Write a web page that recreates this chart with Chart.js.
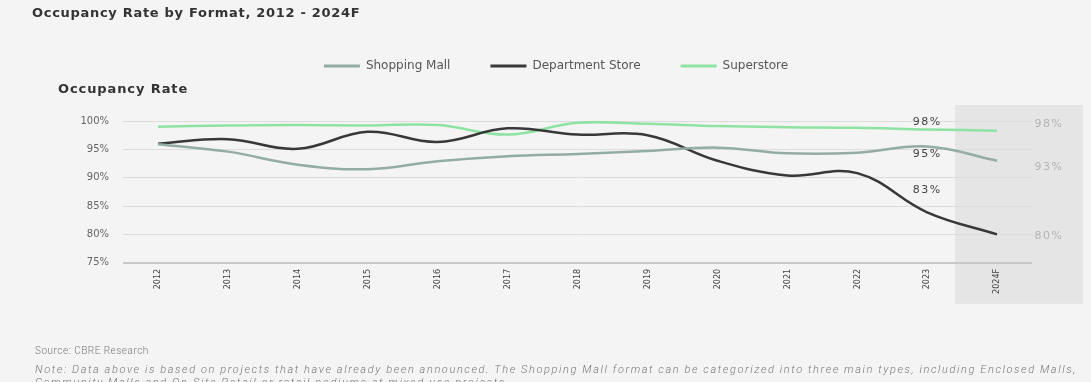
<!DOCTYPE html>
<html>
<head>
<meta charset="utf-8">
<script src="https://cdn.jsdelivr.net/npm/chart.js@4.4.1/dist/chart.umd.min.js"></script>
<style>
  html, body { margin: 0; padding: 0; background: #f4f4f4; }
  body { width: 1091px; height: 382px; position: relative; overflow: hidden; font-family: "DejaVu Sans", sans-serif; }
  canvas { position: absolute; left: 0; top: 0; }
  .title { position: absolute; left: 32px; top: 5px; font-weight: bold; font-size: 13px; letter-spacing: 0.7px; color: #333; }
  .sub { position: absolute; left: 58px; top: 81px; font-weight: bold; font-size: 13px; letter-spacing: 0.9px; color: #333; }
  .source { position: absolute; left: 35px; top: 345px; font-family: Roboto, sans-serif; font-weight: 300; font-size: 10px; letter-spacing: 0.5px; color: #777; }
  .note { position: absolute; left: 35px; top: 363px; width: 1056px; font-family: Roboto, sans-serif; font-weight: 300; font-style: italic; font-size: 11px; letter-spacing: 1.6px; line-height: 13px; color: #777; }
</style>
</head>
<body>
<canvas id="chart" width="1091" height="382"></canvas>
<div class="title">Occupancy Rate by Format, 2012 - 2024F</div>
<div class="sub">Occupancy Rate</div>
<div class="source">Source: CBRE Research</div>
<div class="note">Note: Data above is based on projects that have already been announced. The Shopping Mall format can be categorized into three main types, including Enclosed Malls, Community Malls and On-Site Retail or retail podiums at mixed-use projects.</div>
<script>
// dados
const years = ['2012', '2013', '2014', '2015', '2016', '2017', '2018', '2019', '2020', '2021', '2022', '2023', '2024F'];
const seriesNames = ['Shopping Mall', 'Department Store', 'Superstore'];
const shoppingMall    = [95.9, 94.6, 92.3, 91.5, 92.9, 93.8, 94.2, 94.7, 95.3, 94.3, 94.4, 95.5, 93.0];
const departmentStore = [96.0, 96.8, 95.1, 98.1, 96.3, 98.7, 97.6, 97.5, 93.0, 90.4, 90.8, 83.9, 80.0];
const superstore      = [99.0, 99.2, 99.3, 99.2, 99.3, 97.6, 99.7, 99.5, 99.1, 98.9, 98.8, 98.5, 98.3];
const yTicks = [75, 80, 85, 90, 95, 100];
const labels2023 = ['95%', '83%', '98%'];
const labelsEnd  = ['93%', '80%', '98%'];

const colors = ['#93ada2', '#383838', '#8ee3a2'];

// espaço extra abaixo da legenda
const legendSpacer = {
  id: 'legendSpacer',
  beforeInit(chart) {
    const fit = chart.legend.fit;
    chart.legend.fit = function () {
      fit.call(this);
      this.height += 39;
    };
  }
};

// faixa sombreada da previsão
const forecastShade = {
  id: 'forecastShade',
  beforeDraw(chart) {
    const { ctx, chartArea, scales: { x } } = chart;
    const step = x.getPixelForValue(12) - x.getPixelForValue(11);
    const left = x.getPixelForValue(12) - step * 0.6;
    ctx.save();
    ctx.fillStyle = '#e5e5e5';
    ctx.fillRect(left, chartArea.top - 16, chartArea.right + 51 - left, chartArea.bottom - chartArea.top + 57);
    ctx.restore();
  }
};

// rótulos de valores
const valueLabels = {
  id: 'valueLabels',
  afterDatasetsDraw(chart) {
    const { ctx, chartArea, scales: { x, y } } = chart;
    const offs2023 = [8, -22, -7];
    const offsEnd  = [6, 2, -6];
    ctx.save();
    ctx.textAlign = 'center';
    ctx.textBaseline = 'middle';
    ctx.font = '11px "DejaVu Sans"';
    if ('letterSpacing' in ctx) ctx.letterSpacing = '1.5px';
    chart.data.datasets.forEach((ds, i) => {
      ctx.fillStyle = '#444';
      ctx.fillText(labels2023[i], x.getPixelForValue(11), y.getPixelForValue(ds.data[11]) + offs2023[i]);
      ctx.fillStyle = '#b4b4b4';
      ctx.fillText(labelsEnd[i], chartArea.right + 17, y.getPixelForValue(ds.data[12]) + offsEnd[i]);
    });
    ctx.restore();
  }
};

new Chart(document.getElementById('chart'), {
  type: 'line',
  data: {
    labels: years,
    datasets: [shoppingMall, departmentStore, superstore].map((data, i) => ({
      label: seriesNames[i],
      data,
      borderColor: colors[i],
      backgroundColor: colors[i],
      borderWidth: 2.5,
      pointRadius: 0,
      tension: 0.4
    }))
  },
  options: {
    responsive: false,
    animation: false,
    layout: { padding: { top: 20, left: 80, right: 59, bottom: 82 } },
    plugins: {
      tooltip: { enabled: false },
      legend: {
        labels: {
          boxWidth: 36,
          boxHeight: 3,
          padding: 40,
          color: '#555',
          font: { family: 'DejaVu Sans', size: 12 },
          generateLabels: chart => Chart.defaults.plugins.legend.labels.generateLabels(chart)
            .map(item => ({ ...item, lineWidth: 0 }))
        }
      }
    },
    scales: {
      x: {
        offset: true,
        grid: { display: false, drawTicks: false },
        border: { display: false },
        ticks: {
          minRotation: 90,
          maxRotation: 90,
          padding: 6,
          color: '#444',
          font: { family: '"Liberation Sans Narrow", "DejaVu Sans Condensed", sans-serif', size: 9 }
        }
      },
      y: {
        min: 75,
        max: 100,
        afterBuildTicks: scale => { scale.ticks = yTicks.map(value => ({ value })); },
        afterFit: scale => { scale.width = 43; },
        border: { display: false },
        grid: {
          drawTicks: false,
          color: c => c.tick.value === 75 ? '#c8c8c8' : '#dcdcdc',
          lineWidth: c => c.tick.value === 75 ? 2 : 1
        },
        ticks: {
          padding: 14,
          color: '#666',
          font: { family: 'DejaVu Sans', size: 10 },
          callback: v => v + '%'
        }
      }
    }
  },
  plugins: [legendSpacer, forecastShade, valueLabels]
});
</script>
</body>
</html>
